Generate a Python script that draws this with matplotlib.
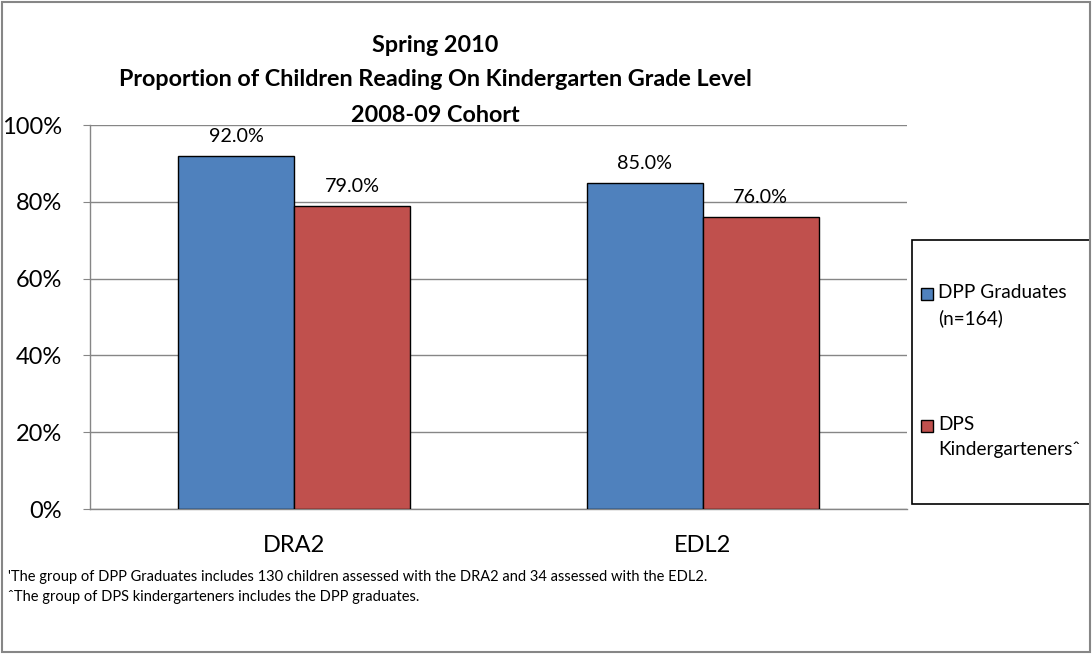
import matplotlib
matplotlib.use("Agg")
import matplotlib.pyplot as plt
from matplotlib.patches import Rectangle
from matplotlib.ticker import PercentFormatter

plt.rcParams["font.family"] = ["Lato", "DejaVu Sans"]

# reading results, spring 2010
categories = ["DRA2", "EDL2"]
dpp_graduates = [92.0, 85.0]
dps_kinder = [79.0, 76.0]
series_names = ["DPP Graduates\n(n=164)", "DPS\nKindergarteners\u02c6"]
colors = ["#4F81BD", "#C0504D"]

title_lines = ["Spring 2010",
               "Proportion of Children Reading On Kindergarten Grade Level",
               "2008-09 Cohort"]
footnotes = [
    "'The group of DPP Graduates includes 130 children assessed with the DRA2 and 34 assessed with the EDL2.",
    "\u02c6The group of DPS kindergarteners includes the DPP graduates.",
]

W, H = 1092, 654
fig = plt.figure(figsize=(W / 100, H / 100), dpi=100)
ax = fig.add_axes([90 / W, 1 - 509 / H, 817 / W, 384 / H])

width = 0.284
x = range(len(categories))
for offset, vals, col in [(-width / 2, dpp_graduates, colors[0]), (width / 2, dps_kinder, colors[1])]:
    bars = ax.bar([i + offset for i in x], vals, width=width, color=col,
                  edgecolor="black", linewidth=1.0, zorder=3)
    for b, v in zip(bars, vals):
        ax.text(b.get_x() + b.get_width() / 2, v + 5.0, f"{v:.1f}%",
                ha="center", va="center", fontsize=14.2)

ax.set_xlim(-0.5, 1.5)
ax.set_ylim(0, 100)
ax.set_yticks(range(0, 101, 20))
ax.yaxis.set_major_formatter(PercentFormatter(decimals=0))
ax.set_xticks(list(x))
ax.set_xticklabels(categories)
ax.tick_params(axis="y", labelsize=17, length=5, color="#868686", pad=15)
ax.tick_params(axis="x", labelsize=17, length=0, pad=19)
ax.grid(axis="y", color="#868686", linewidth=1.0, zorder=0)
for s in ["top", "right"]:
    ax.spines[s].set_visible(False)
for s in ["left", "bottom"]:
    ax.spines[s].set_color("#868686")
    ax.spines[s].set_linewidth(1.0)

# three-line title, one text per line
for i, line in enumerate(title_lines):
    fig.text(435 / W, 1 - (45 + 35 * i) / H, line, ha="center", va="center",
             fontsize=16.8, fontweight="bold")

# legend box drawn by hand
fig.patches.append(Rectangle((912 / W, 1 - 504 / H), 178 / W, 264 / H,
                             transform=fig.transFigure, facecolor="white",
                             edgecolor="black", linewidth=1.2))
for (ypix, name, col) in [(293, series_names[0], colors[0]), (425, series_names[1], colors[1])]:
    fig.patches.append(Rectangle((921 / W, 1 - (ypix + 7) / H), 12 / W, 12 / H,
                                 transform=fig.transFigure, facecolor=col,
                                 edgecolor="black", linewidth=1.0))
    first, second = name.split("\n")
    fig.text(938 / W, 1 - ypix / H, first, ha="left", va="center", fontsize=13.7)
    fig.text(938 / W, 1 - (ypix + 25) / H, second, ha="left", va="center", fontsize=13.7)

for i, note in enumerate(footnotes):
    fig.text(8 / W, 1 - (577 + 20 * i) / H, note, ha="left", va="center", fontsize=10.5)

# outer frame
fig.patches.append(Rectangle((0.002, 0.003), 0.996, 0.994, transform=fig.transFigure,
                             fill=False, edgecolor="#868686", linewidth=1.5))

fig.savefig("out.png", dpi=100)
